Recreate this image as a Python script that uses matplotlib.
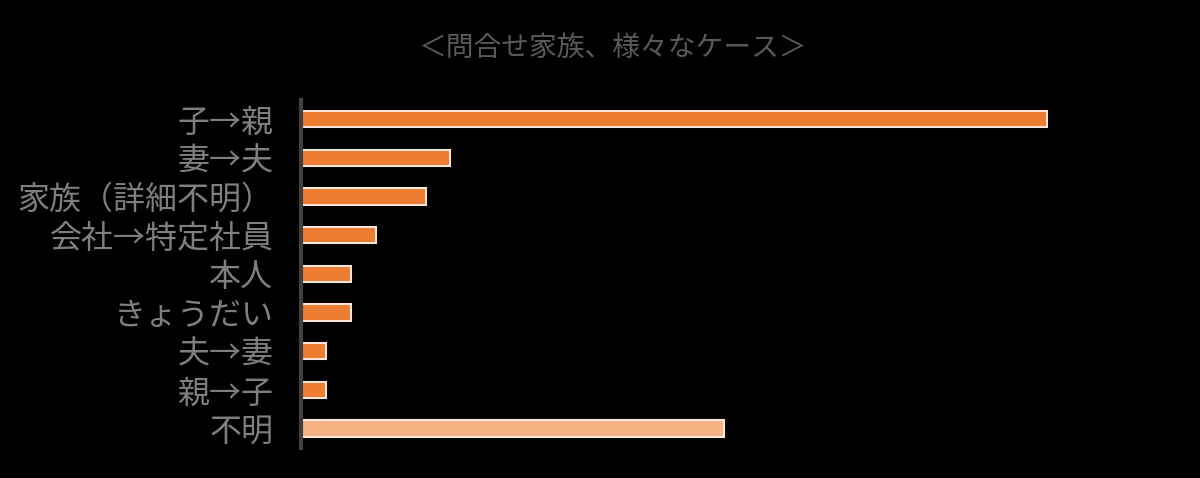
import matplotlib
matplotlib.use("Agg")
import matplotlib.pyplot as plt

plt.rcParams['font.family'] = ['Noto Sans CJK JP', 'DejaVu Sans']

# data (top to bottom as shown)
categories = ["子→親", "妻→夫", "家族（詳細不明）", "会社→特定社員", "本人",
              "きょうだい", "夫→妻", "親→子", "不明"]
counts = [30, 6, 5, 3, 2, 2, 1, 1, 17]
bar_colors = ["#ed7d31"] * 8 + ["#f4b183"]

fig = plt.figure(figsize=(12, 4.78), dpi=100, facecolor="black")
ax = fig.add_axes([0.251, 0.063, 0.632, 0.728], facecolor="black")

ypos = list(range(len(categories)))[::-1]
ax.barh(ypos, counts, height=0.42, color=bar_colors,
        edgecolor="#fbe5d6", linewidth=1.5)

ax.set_xlim(0, 30.5)
ax.set_ylim(-0.5, 8.5)
ax.set_yticks(ypos)
ax.set_yticklabels(categories, fontsize=23, color="#7f7f7f")
ax.tick_params(axis="y", length=0, pad=20)
ax.set_xticks([])

for s in ["top", "right", "bottom"]:
    ax.spines[s].set_visible(False)
ax.spines["left"].set_color("#404040")
ax.spines["left"].set_linewidth(3)

fig.text(0.51, 0.9, "＜問合せ家族、様々なケース＞", ha="center", va="center",
         fontsize=20, color="#595959")

fig.savefig("out.png", facecolor="black")
